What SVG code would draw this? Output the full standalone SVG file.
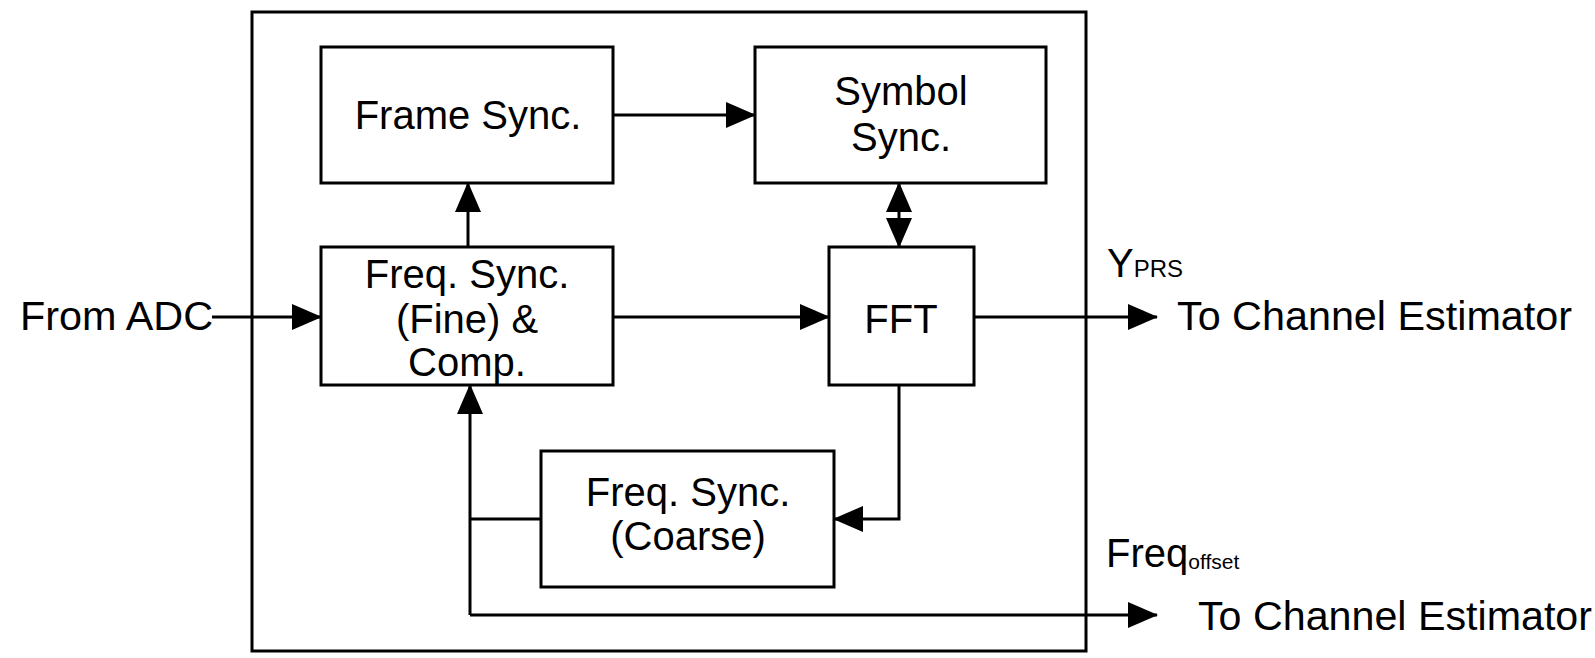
<svg xmlns="http://www.w3.org/2000/svg" width="1595" height="658" viewBox="0 0 1595 658">
<defs>
<marker id="ah" markerUnits="userSpaceOnUse" markerWidth="30" markerHeight="26" viewBox="0 0 30 26" refX="29" refY="13" orient="auto-start-reverse">
<path d="M0,0 L30,13 L0,26 Z" fill="#000"/>
</marker>
</defs>
<style>
.box{fill:#fff;stroke:#000;stroke-width:3}
.ln{fill:none;stroke:#000;stroke-width:3}
.t{font-family:"Liberation Sans",Arial,sans-serif;font-size:40px;fill:#000;text-anchor:middle}
.l{font-family:"Liberation Sans",Arial,sans-serif;font-size:40px;fill:#000}
.s{font-size:24px}
</style>
<rect width="1595" height="658" fill="#fff"/>
<rect id="outer" x="252" y="12" width="834" height="639" class="ln"/>
<g id="frame"><rect x="321" y="47" width="292" height="136" class="box"/><text class="t" x="468" y="129">Frame Sync.</text></g>
<g id="symbol"><rect x="755" y="47" width="291" height="136" class="box"/><text class="t" x="901" y="105">Symbol</text><text class="t" x="901" y="151">Sync.</text></g>
<g id="fine"><rect x="321" y="247" width="292" height="138" class="box"/><text class="t" x="467" y="288">Freq. Sync.</text><text class="t" x="467" y="333">(Fine) &amp;</text><text class="t" x="467" y="376">Comp.</text></g>
<g id="fft"><rect x="829" y="247" width="145" height="138" class="box"/><text class="t" x="901" y="333">FFT</text></g>
<g id="coarse"><rect x="541" y="451" width="293" height="136" class="box"/><text class="t" x="688" y="506">Freq. Sync.</text><text class="t" x="688" y="550">(Coarse)</text></g>
<g id="connectors">
<path class="ln" d="M212,317 H321" marker-end="url(#ah)"/>
<path class="ln" d="M613,317 H829" marker-end="url(#ah)"/>
<path class="ln" d="M974,317 H1157" marker-end="url(#ah)"/>
<path class="ln" d="M468,247 V183" marker-end="url(#ah)"/>
<path class="ln" d="M613,115 H755" marker-end="url(#ah)"/>
<path class="ln" d="M899,183 V247" marker-start="url(#ah)" marker-end="url(#ah)"/>
<path class="ln" d="M899,385 V519 H834" marker-end="url(#ah)"/>
<path class="ln" d="M541,519 H470"/>
<path class="ln" d="M470,615 V385" marker-end="url(#ah)"/>
<path class="ln" d="M470,615 H1157" marker-end="url(#ah)"/>
</g>
<g id="labels">
<text class="l" x="20" y="330" textLength="193" lengthAdjust="spacingAndGlyphs">From ADC</text>
<text class="l" x="1107" y="277">Y<tspan class="s">PRS</tspan></text>
<text class="l" x="1177" y="330" textLength="395" lengthAdjust="spacingAndGlyphs">To Channel Estimator</text>
<text class="l" x="1106" y="567">Freq<tspan class="s" dy="2" style="font-size:21px">offset</tspan></text>
<text class="l" x="1198" y="630" textLength="394" lengthAdjust="spacingAndGlyphs">To Channel Estimator</text>
</g>
</svg>
